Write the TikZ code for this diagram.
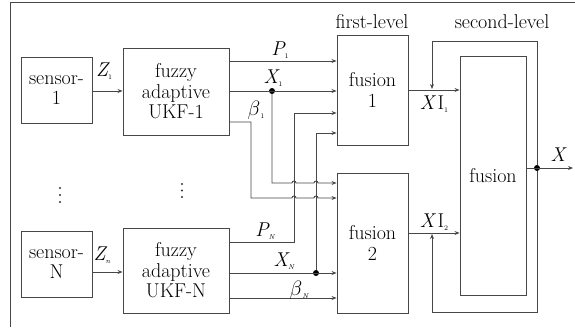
\documentclass[tikz,border=0pt]{standalone}
\usepackage{fontspec}
\usetikzlibrary{arrows.meta}
\newcommand\subx[1]{\raisebox{-0.35ex}{\fontsize{7}{7}\selectfont #1}}
\newcommand\lbl[2]{{\itshape #1}\subx{#2}}
\begin{document}
\begin{tikzpicture}[x=1pt,y=-1pt,
  ln/.style={draw=black!72, line width=0.9pt},
  arr/.style={ln,-{Stealth[length=5pt,width=4pt]}},
  box/.style={ln, inner sep=0pt, align=center, text=black, font=\rmfamily\fontsize{20}{20.5}\selectfont},
  dotc/.style={fill=black, circle, inner sep=0pt, minimum size=6pt},
  vdot/.style={fill=black!80, circle, inner sep=0pt, minimum size=2.2pt},
  lab/.style={inner sep=0pt, font=\rmfamily\fontsize{20}{20}\selectfont},
  lev/.style={inner sep=0pt, font=\rmfamily\fontsize{20}{20}\selectfont}]
\useasboundingbox (0,0) rectangle (575,327);
\fill[white] (0,0) rectangle (575,327);
% frame
\draw[ln] (10,327) -- (10,2) -- (575,2);
% boxes
\node[box, minimum width=71pt, minimum height=66pt] (s1) at (56.5,90) {sensor-\\1};
\node[box, minimum width=106pt, minimum height=87pt] (u1) at (176,91.5) {fuzzy\\adaptive\\UKF-1};
\node[box, minimum width=71pt, minimum height=66pt] (sN) at (56.5,264) {sensor-\\N};
\node[box, minimum width=106pt, minimum height=85pt] (uN) at (176,270.5) {fuzzy\\adaptive\\UKF-N};
\node[box, minimum width=71pt, minimum height=110pt] (f1) at (372.5,90) {fusion\\1};
\node[box, minimum width=71pt, minimum height=140pt] (f2) at (372.5,243) {fusion\\2};
\node[box, minimum width=66pt, minimum height=239pt] (F) at (493,175.5) {fusion};
% level labels
\node[lev] (lv1) at (372,22) {first-level};
\node[lev] (lv2) at (502,22) {second-level};
% vertical ellipses
\foreach \yy in {188,195,202} \node[vdot] at (60,\yy) {};
\foreach \yy in {184,190.5,197} \node[vdot] at (182,\yy) {};
% sensor to UKF
\draw[arr] (s1.east |- 0,91) -- (u1.west |- 0,91);
\draw[arr] (sN.east |- 0,272) -- (uN.west |- 0,272);
\node[lab] (lz1) at (104,71) {\lbl{Z}{1}};
\node[lab] (lzn) at (102,255) {\lbl{Z}{\itshape n}};
% dots
\node[dotc] (d1) at (272,91) {};
\node[dotc] (dN) at (316,273) {};
\node[dotc] (dX) at (537,168) {};
% UKF-1 outputs
\draw[arr] (u1.east |- 0,61) -- (f1.west |- 0,61);
\draw[arr] (u1.east |- 0,91) -- (f1.west |- 0,91);
\draw[arr] (u1.east |- 0,122) -- (251,122) -- (251,198) -- (292,198)
  arc[start angle=180,end angle=360,radius=2] -- (314,198)
  arc[start angle=180,end angle=360,radius=2] -- (f2.west |- 0,198);
\draw[arr] (d1) -- (272,183) -- (292,183)
  arc[start angle=180,end angle=360,radius=2] -- (314,183)
  arc[start angle=180,end angle=360,radius=2] -- (f2.west |- 0,183);
% UKF-N outputs
\draw[arr] (uN.east |- 0,242) -- (294,242) -- (294,113) -- (f1.west |- 0,113);
\draw[arr] (uN.east |- 0,273) -- (f2.west |- 0,273);
\draw[arr] (dN) -- (316,133) -- (f1.west |- 0,133);
\draw[arr] (uN.east |- 0,298) -- (f2.west |- 0,298);
% labels
\node[lab] (lp1) at (280,50) {\lbl{P}{1}};
\node[lab] (lx1) at (273,78) {\lbl{X}{1}};
\node[lab] (lb1) at (256,110) {$\beta$\subx{1}};
\node[lab] (lpn) at (265,231) {\lbl{P}{\itshape N}};
\node[lab] (lxn) at (284,261) {\lbl{X}{\itshape N}};
\node[lab] (lbn) at (299,290) {$\beta$\subx{\itshape N}};
% fusion outputs
\draw[arr] (f1.east |- 0,90) -- (F.west |- 0,90);
\draw[arr] (f2.east |- 0,233) -- (F.west |- 0,233);
\node[lab] (lxi1) at (434,104) {{\itshape X}\,I\subx{1}};
\node[lab] (lxi2) at (434,222) {{\itshape X}\,I\subx{2}};
% final output and feedback
\coordinate (xout) at (573,168);
\draw[arr] (F.east |- 0,168) -- (xout);
\node[lab] (lx) at (558,155) {\itshape X};
\draw[arr] (dX) -- (537,41) -- (432,41) -- (432,89);
\draw[arr] (dX) -- (537,312) -- (432,312) -- (432,234);
\end{tikzpicture}
\end{document}
